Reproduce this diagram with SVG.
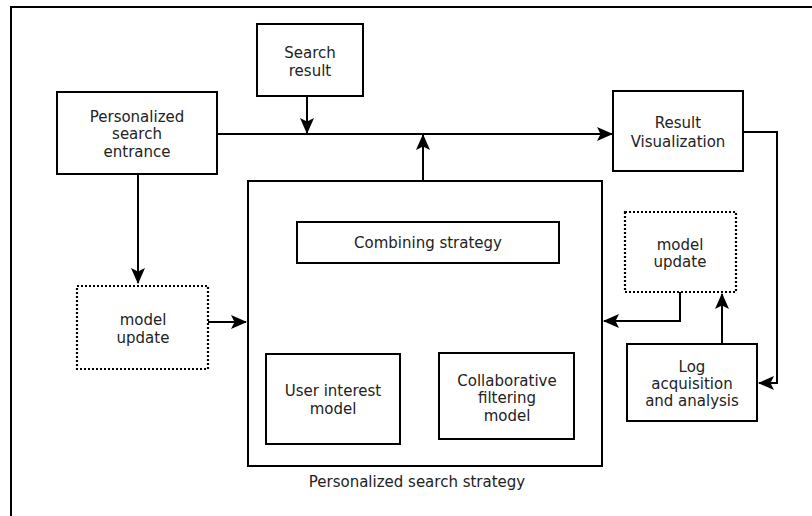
<svg xmlns="http://www.w3.org/2000/svg" width="812" height="516" viewBox="0 0 812 516">
<defs>
<style>
.box{fill:#fff;stroke:#000;stroke-width:2}
.dot{fill:#fff;stroke:#000;stroke-width:2.2;stroke-dasharray:2 2}
.t{font-family:"DejaVu Sans",Verdana,sans-serif;font-size:15px;fill:#222;text-anchor:middle;dominant-baseline:central}
.ln{fill:none;stroke:#000;stroke-width:2}
</style>
<marker id="ah" viewBox="0 0 16 14" refX="15" refY="7" markerWidth="16" markerHeight="14" markerUnits="userSpaceOnUse" orient="auto">
<path d="M0,0 L16,7 L0,14 L3.5,7 z" fill="#000"/>
</marker>
</defs>
<rect width="812" height="516" fill="#fff"/>
<path d="M11,516 V7 H812" fill="none" stroke="#000" stroke-width="2"/>

<g id="connectors">
<line class="ln" x1="217" y1="134" x2="612" y2="134" marker-end="url(#ah)"/>
<line class="ln" x1="307" y1="96" x2="307" y2="133" marker-end="url(#ah)"/>
<line class="ln" x1="423" y1="181" x2="423" y2="135" marker-end="url(#ah)"/>
<line class="ln" x1="138" y1="174" x2="138" y2="283" marker-end="url(#ah)"/>
<line class="ln" x1="208" y1="322" x2="246" y2="322" marker-end="url(#ah)"/>
<path class="ln" d="M680,292 V321 H604" marker-end="url(#ah)"/>
<line class="ln" x1="722" y1="344" x2="722" y2="294" marker-end="url(#ah)"/>
<path class="ln" d="M743,132 H777 V383 H759" marker-end="url(#ah)"/>
<line x1="416" y1="265" x2="363" y2="354" stroke="#000" stroke-width="1.5"/>
<line x1="440" y1="265" x2="484" y2="353" stroke="#000" stroke-width="2.5"/>
</g>

<g id="search-result">
<rect class="box" x="257" y="24" width="106" height="72"/>
<text class="t" x="310" y="53">Search</text>
<text class="t" x="310" y="71">result</text>
</g>
<g id="personalized-search-entrance">
<rect class="box" x="57" y="92" width="160" height="82"/>
<text class="t" x="137" y="117">Personalized</text>
<text class="t" x="137" y="134">search</text>
<text class="t" x="137" y="152">entrance</text>
</g>
<g id="result-visualization">
<rect class="box" x="613" y="91" width="130" height="80"/>
<text class="t" x="678" y="123">Result</text>
<text class="t" x="678" y="142">Visualization</text>
</g>
<g id="personalized-search-strategy">
<rect class="box" x="248" y="181" width="354" height="285"/>
<text class="t" x="417" y="482">Personalized search strategy</text>
</g>
<g id="combining-strategy">
<rect class="box" x="297" y="222" width="262" height="41"/>
<text class="t" x="428" y="243">Combining strategy</text>
</g>
<g id="user-interest-model">
<rect class="box" x="266" y="354" width="134" height="90"/>
<text class="t" x="333" y="391">User interest</text>
<text class="t" x="333" y="409">model</text>
</g>
<g id="collaborative-filtering-model">
<rect class="box" x="439" y="353" width="135" height="86"/>
<text class="t" x="507" y="381">Collaborative</text>
<text class="t" x="507" y="398">filtering</text>
<text class="t" x="507" y="416">model</text>
</g>
<g id="model-update-left">
<rect class="dot" x="77" y="286" width="131" height="83"/>
<text class="t" x="143" y="320">model</text>
<text class="t" x="143" y="338">update</text>
</g>
<g id="model-update-right">
<rect class="dot" x="625" y="212" width="111" height="80"/>
<text class="t" x="680" y="245">model</text>
<text class="t" x="680" y="262">update</text>
</g>
<g id="log-acquisition">
<rect class="box" x="627" y="344" width="130" height="77"/>
<text class="t" x="692" y="367">Log</text>
<text class="t" x="692" y="384">acquisition</text>
<text class="t" x="692" y="401">and analysis</text>
</g>
</svg>
